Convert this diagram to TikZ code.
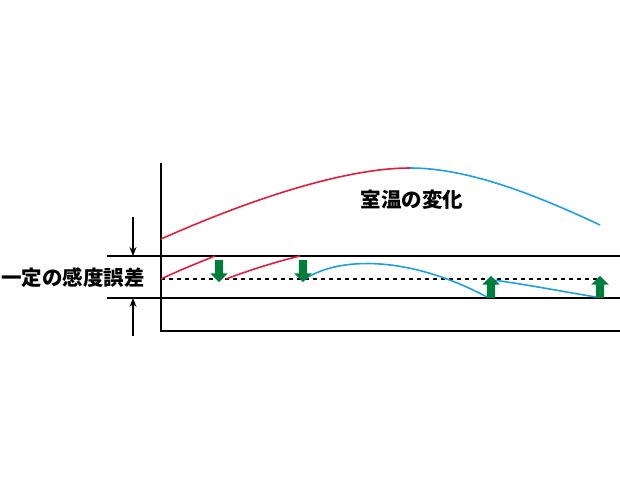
\documentclass[tikz,border=0pt]{standalone}
\usepackage{fontspec}
\newfontfamily\jpfont{Noto Sans CJK JP}
\definecolor{tempred}{RGB}{225,30,60}
\definecolor{tempblue}{RGB}{30,160,225}
\definecolor{setagreen}{RGB}{0,125,60}
\usetikzlibrary{arrows.meta,shapes.arrows}

\begin{document}
\begin{tikzpicture}[x=1pt,y=-1pt,
        eixo/.style={line width=2pt,black},
        curvared/.style={line width=1.6pt,tempred},
        curvablue/.style={line width=1.6pt,tempblue},
        seta/.style={shape=single arrow,fill=setagreen,draw=none,inner xsep=0pt,inner ysep=4pt,
            minimum height=22pt,single arrow head extend=4.5pt,single arrow tip angle=90},
        cota/.style={line width=1.2pt,-{Stealth[length=9pt,width=7pt]}},
        rotulo/.style={font=\jpfont\bfseries\fontsize{20.5}{20.5}\selectfont,inner sep=0pt}]

        \useasboundingbox (0,0) rectangle (620,499);

        % Eixos
        \draw[eixo] (161,163) -- (161,331) -- (620,331);

        % Faixa do erro (linhas horizontais)
        \draw[eixo] (107,256) -- (620,256);
        \draw[eixo] (107,298) -- (620,298);
        \draw[eixo,dash pattern=on 4pt off 4pt] (161,279) -- (600,279);

        % Cotas da faixa
        \coordinate (cotaA) at (133,217);
        \coordinate (faixaA) at (133,256);
        \coordinate (cotaB) at (133,336);
        \coordinate (faixaB) at (133,298);
        \draw[cota] (cotaA) -- (faixaA);
        \draw[cota] (cotaB) -- (faixaB);

        % Temperatura ambiente
        \draw[curvared] (161,239) .. controls (260,195) and (350,168) .. (410,168);
        \draw[curvablue] (410,168) .. controls (465,168) and (530,192) .. (600,225);
        \node[rotulo] (tamb) at (412,200) {室温の変化};

        % Temperatura com erro
        \draw[curvared] (161,279) .. controls (180,270) and (200,262) .. (215,256);
        \draw[curvared] (226,279) .. controls (250,270) and (275,262) .. (300,256);
        \draw[curvablue] (305,279) .. controls (340,256) and (410,256) .. (487,297);
        \draw[curvablue] (493,280) .. controls (530,285) and (565,292) .. (596,297);

        % Correcoes (setas verdes)
        \node[seta,rotate=-90] (desce1) at (219,269) {};
        \node[seta,rotate=-90] (desce2) at (303,269) {};
        \node[seta,rotate=90] (sobe1) at (491,289) {};
        \node[seta,rotate=90] (sobe2) at (600,289) {};

        \node[rotulo,anchor=west] (terro) at (1,278) {一定の感度誤差};

    \end{tikzpicture}
\end{document}
